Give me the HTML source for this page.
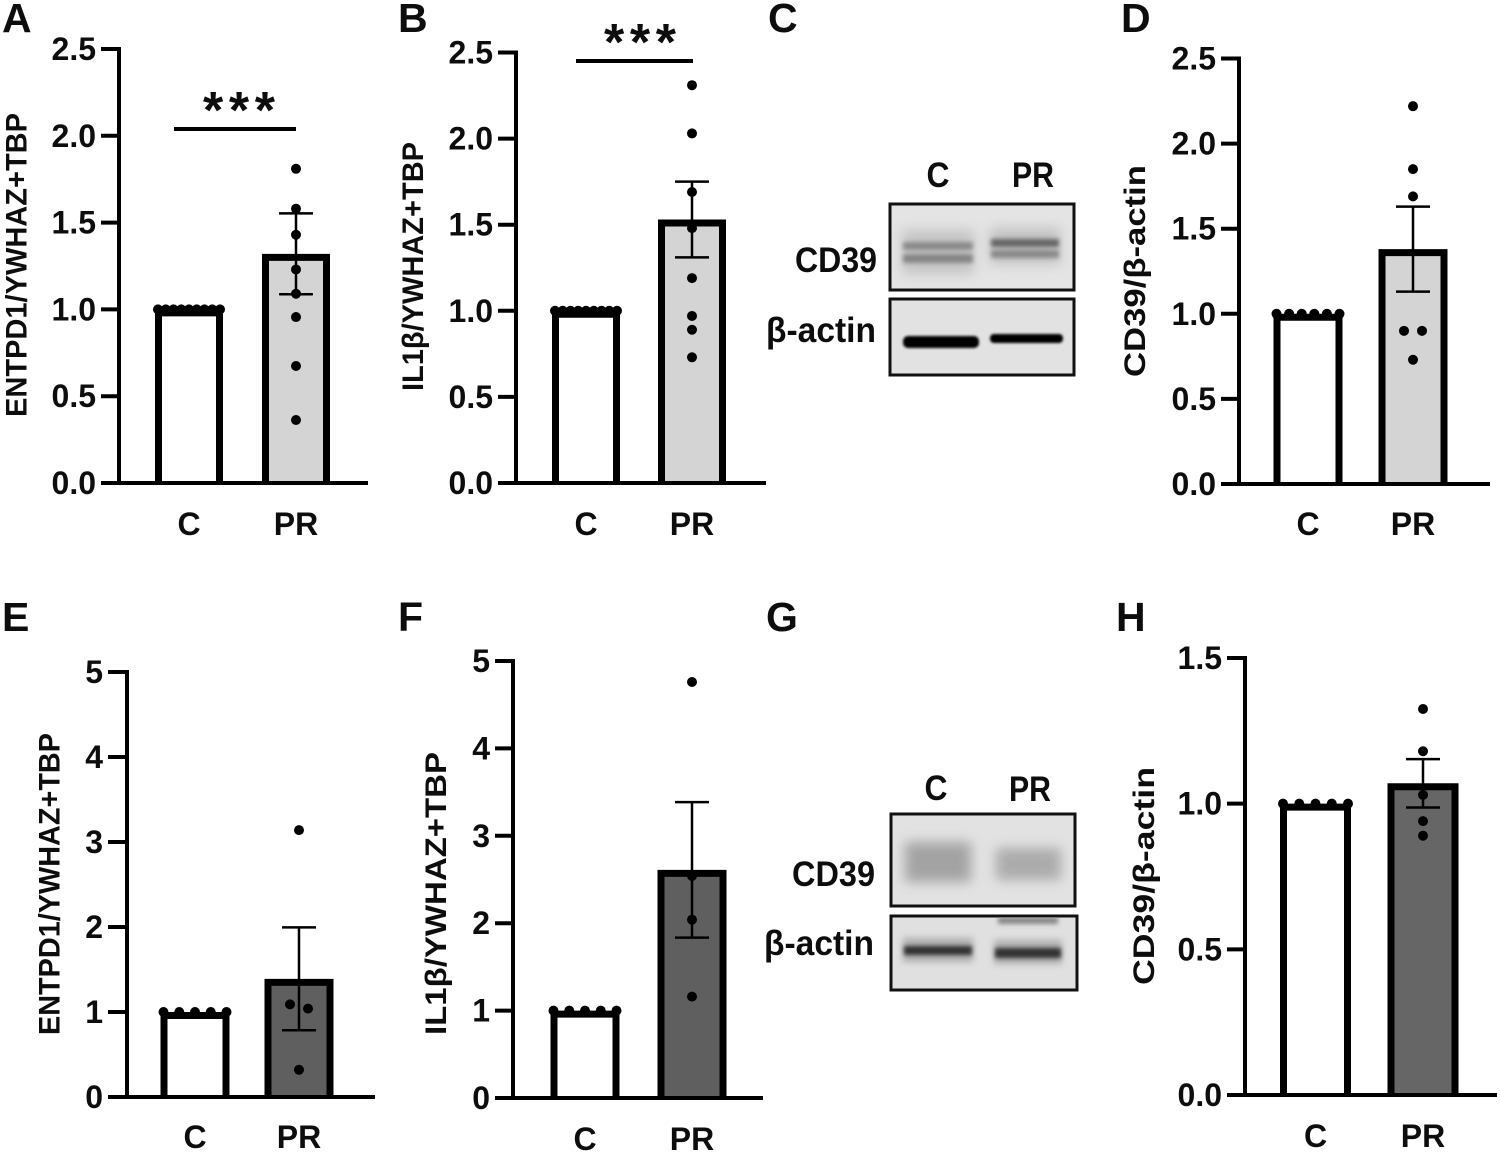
<!DOCTYPE html>
<html>
<head>
<meta charset="utf-8">
<title>CD39 and IL1β expression panels</title>
<style>
html,body{margin:0;padding:0;background:#fff;}
svg{display:block;filter:blur(.35px);}
text{font-family:"Liberation Sans",sans-serif;font-weight:bold;fill:#0d0d0d;}
</style>
</head>
<body>
<svg id="figure" width="1500" height="1154" viewBox="0 0 1500 1154" xmlns="http://www.w3.org/2000/svg">
<defs>
<filter id="b1" x="-20%" y="-80%" width="140%" height="260%"><feGaussianBlur stdDeviation="1.2"/></filter>
<filter id="b2" x="-20%" y="-80%" width="140%" height="260%"><feGaussianBlur stdDeviation="2.2"/></filter>
<filter id="b4" x="-20%" y="-80%" width="140%" height="260%"><feGaussianBlur stdDeviation="3.5"/></filter>
<filter id="b8" x="-30%" y="-60%" width="160%" height="220%"><feGaussianBlur stdDeviation="6"/></filter>
<clipPath id="clipC1"><rect x="892" y="205" width="181" height="84"/></clipPath>
<clipPath id="clipC2"><rect x="892" y="301" width="181" height="72"/></clipPath>
<clipPath id="clipG1"><rect x="893" y="816" width="181" height="88"/></clipPath>
<clipPath id="clipG2"><rect x="893" y="918" width="183" height="70"/></clipPath>
</defs>

<g>
<text x="768" y="32" font-size="41">C</text>
<text x="938" y="187" font-size="35" text-anchor="middle" textLength="23" lengthAdjust="spacingAndGlyphs">C</text>
<text x="1033" y="187" font-size="35" text-anchor="middle" textLength="42" lengthAdjust="spacingAndGlyphs">PR</text>
<text x="795" y="272" font-size="35" textLength="82" lengthAdjust="spacingAndGlyphs">CD39</text>
<text x="766" y="342" font-size="35" textLength="110" lengthAdjust="spacingAndGlyphs">β-actin</text>
<rect x="890" y="204" width="184" height="86" fill="#e4e4e4" stroke="#111" stroke-width="3"/>
<g clip-path="url(#clipC1)">
<rect x="902" y="230" width="72" height="44" fill="#aaa" filter="url(#b8)" opacity=".55"/>
<rect x="990" y="228" width="70" height="36" fill="#aaa" filter="url(#b8)" opacity=".6"/>
<rect x="903" y="242" width="70" height="8" fill="#777" filter="url(#b2)" opacity=".75"/>
<rect x="903" y="254" width="70" height="9" fill="#777" filter="url(#b2)" opacity=".8"/>
<rect x="991" y="239" width="68" height="8" fill="#555" filter="url(#b2)" opacity=".85"/>
<rect x="991" y="250" width="68" height="8" fill="#777" filter="url(#b2)" opacity=".75"/>
</g>
<rect x="890" y="299" width="184" height="76" fill="#e2e2e2" stroke="#111" stroke-width="3"/>
<g clip-path="url(#clipC2)">
<rect x="903" y="336" width="76" height="12" rx="5" fill="#000" filter="url(#b1)"/>
<rect x="990" y="334" width="73" height="9" rx="4" fill="#000" filter="url(#b1)"/>
</g>
</g>

<g>
<text x="766" y="631" font-size="41">G</text>
<text x="936" y="800" font-size="35" text-anchor="middle" textLength="23" lengthAdjust="spacingAndGlyphs">C</text>
<text x="1030" y="801" font-size="35" text-anchor="middle" textLength="42" lengthAdjust="spacingAndGlyphs">PR</text>
<text x="792" y="886" font-size="35" textLength="83" lengthAdjust="spacingAndGlyphs">CD39</text>
<text x="764" y="955" font-size="35" textLength="110" lengthAdjust="spacingAndGlyphs">β-actin</text>
<rect x="891" y="814" width="184" height="92" fill="#e2e2e2" stroke="#111" stroke-width="3"/>
<g clip-path="url(#clipG1)">
<rect x="905" y="842" width="66" height="40" fill="#999" filter="url(#b8)" opacity=".85"/>
<rect x="996" y="848" width="65" height="32" fill="#a2a2a2" filter="url(#b8)" opacity=".85"/>
</g>
<rect x="891" y="916" width="186" height="74" fill="#e0e0e0" stroke="#111" stroke-width="3"/>
<g clip-path="url(#clipG2)">
<rect x="903" y="938" width="70" height="24" fill="#999" filter="url(#b4)" opacity=".7"/>
<rect x="994" y="940" width="68" height="24" fill="#999" filter="url(#b4)" opacity=".7"/>
<rect x="904" y="946" width="68" height="9" fill="#333" filter="url(#b2)"/>
<rect x="995" y="948" width="66" height="10" fill="#333" filter="url(#b2)"/>
<rect x="998" y="917" width="60" height="7" fill="#888" filter="url(#b2)"/>
</g>
</g>
</svg>

<script>
// ---- Data ----
const categories = ['C', 'PR'];

const ticksA = ['0.0', '0.5', '1.0', '1.5', '2.0', '2.5'];
const meansA = [1, 1.32];
const semA = [0, 0.233];
const pointsAC = [1, 1, 1, 1, 1, 1, 1, 1, 1];
const pointsAPR = [1.81, 1.58, 1.43, 1.23, 1.09, 0.956, 0.674, 0.363];

const ticksB = ['0.0', '0.5', '1.0', '1.5', '2.0', '2.5'];
const meansB = [1, 1.53];
const semB = [0, 0.22];
const pointsBC = [1, 1, 1, 1, 1, 1, 1, 1, 1];
const pointsBPR = [2.31, 2.03, 1.69, 1.48, 1.19, 0.97, 0.89, 0.73];

const ticksD = ['0.0', '0.5', '1.0', '1.5', '2.0', '2.5'];
const meansD = [1, 1.38];
const semD = [0, 0.25];
const pointsDC = [1, 1, 1, 1, 1, 1];
const pointsDPR = [2.22, 1.85, 1.69, 0.90, 0.90, 0.73];

const ticksE = ['0', '1', '2', '3', '4', '5'];
const meansE = [1, 1.39];
const semE = [0, 0.605];
const pointsEC = [1, 1, 1, 1, 1];
const pointsEPR = [3.14, 1.09, 1.04, 0.32];

const ticksF = ['0', '1', '2', '3', '4', '5'];
const meansF = [1, 2.61];
const semF = [0, 0.775];
const pointsFC = [1, 1, 1, 1, 1];
const pointsFPR = [4.76, 2.54, 2.04, 1.16];

const ticksH = ['0.0', '0.5', '1.0', '1.5'];
const meansH = [1, 1.07];
const semH = [0, 0.083];
const pointsHC = [1, 1, 1, 1, 1];
const pointsHPR = [1.325, 1.18, 1.03, 0.94, 0.89];

// ---- Layout ----
const NS = 'http://www.w3.org/2000/svg';
const figure = document.getElementById('figure');

const panels = [
  { id: 'a', letter: 'A', lx: 2, ly: 32, axisX: 119, tickX: 101, endX: 368, y0: 483, yTop: 49, centers: [189, 296], barW: 68, fill: '#d4d4d4',
    ticks: ticksA, means: meansA, sem: semA, points: [pointsAC, pointsAPR], title: 'ENTPD1/YWHAZ+TBP', titleX: 26.5, titleY0: 417, titleLen: 304, catY: 535,
    sig: { x1: 174, x2: 296, y: 129, star: 239, starY: 128 } },
  { id: 'b', letter: 'B', lx: 398, ly: 32, axisX: 516, tickX: 498, endX: 766, y0: 483, yTop: 52.5, centers: [586, 692], barW: 68, fill: '#d4d4d4',
    ticks: ticksB, means: meansB, sem: semB, points: [pointsBC, pointsBPR], title: 'IL1β/YWHAZ+TBP', titleX: 423, titleY0: 391, titleLen: 249, catY: 535,
    sig: { x1: 576, x2: 693, y: 61, star: 640, starY: 60 } },
  { id: 'd', letter: 'D', lx: 1121, ly: 32, axisX: 1239, tickX: 1221, endX: 1490, y0: 484, yTop: 58.5, centers: [1308, 1413], barW: 69, fill: '#d4d4d4',
    ticks: ticksD, means: meansD, sem: semD, points: [pointsDC, pointsDPR], title: 'CD39/β-actin', titleX: 1145, titleY0: 377, titleLen: 212, catY: 535 },
  { id: 'e', letter: 'E', lx: 2, ly: 631, axisX: 127, tickX: 108, endX: 375, y0: 1097, yTop: 672, centers: [195, 299], barW: 69, fill: '#5f5f5f',
    ticks: ticksE, means: meansE, sem: semE, points: [pointsEC, pointsEPR], title: 'ENTPD1/YWHAZ+TBP', titleX: 59.5, titleY0: 1035, titleLen: 302, catY: 1148 },
  { id: 'f', letter: 'F', lx: 398, ly: 631, axisX: 513, tickX: 495, endX: 763, y0: 1098, yTop: 661, centers: [585, 692], barW: 69, fill: '#5f5f5f',
    ticks: ticksF, means: meansF, sem: semF, points: [pointsFC, pointsFPR], title: 'IL1β/YWHAZ+TBP', titleX: 446, titleY0: 1035, titleLen: 283, catY: 1150 },
  { id: 'h', letter: 'H', lx: 1116, ly: 631, axisX: 1245, tickX: 1227, endX: 1497, y0: 1095, yTop: 658, centers: [1315.5, 1423], barW: 71, fill: '#666666',
    ticks: ticksH, means: meansH, sem: semH, points: [pointsHC, pointsHPR], title: 'CD39/β-actin', titleX: 1154, titleY0: 985, titleLen: 218, catY: 1147 }
];

const AXIS_W = 4;
const BAR_STROKE = 7;
const DOT_R = 5;
const CAP_HALF = 17;

function svgEl(tag, parent) {
  const el = document.createElementNS(NS, tag);
  parent.appendChild(el);
  return el;
}
function setAll(el, attrs) {
  for (const k in attrs) el.setAttribute(k, attrs[k]);
}

// Spread overlapping dots sideways, the way a scatter-on-bar plot does.
function swarm(values, scale, cx, barW) {
  const sorted = values.slice().sort((a, b) => b - a);
  const out = [];
  let i = 0;
  while (i < sorted.length) {
    let j = i + 1;
    while (j < sorted.length && Math.abs(scale(sorted[j]) - scale(sorted[i])) < 8) j++;
    const n = j - i;
    const step = n > 3 ? (barW - 6) / (n - 1) : 18;
    for (let k = 0; k < n; k++) {
      out.push({ v: sorted[i + k], x: cx + (k - (n - 1) / 2) * step });
    }
    i = j;
  }
  return out;
}

panels.forEach(function (p) {
  const maxV = parseFloat(p.ticks[p.ticks.length - 1]);
  const yScale = function (v) { return p.y0 - (v / maxV) * (p.y0 - p.yTop); };

  const g = svgEl('g', figure);
  
  

  const letter = svgEl('text', g);
  
  
  setAll(letter, { x: p.lx, y: p.ly, 'font-size': 41 });
  letter.textContent = p.letter;

  // Bars: three-sided outline so the baseline is only the x axis
  p.means.forEach(function (m, i) {
    const bar = svgEl('path', g);
    
    
    const top = yScale(m) + BAR_STROKE / 2;
    const left = p.centers[i] - p.barW / 2 + BAR_STROKE / 2;
    const right = p.centers[i] + p.barW / 2 - BAR_STROKE / 2;
    setAll(bar, {
      d: 'M' + left + ' ' + p.y0 + ' V' + top + ' H' + right + ' V' + p.y0,
      fill: i === 0 ? '#fff' : p.fill,
      stroke: '#000',
      'stroke-width': BAR_STROKE
    });
  });

  // Axes
  const yAxis = svgEl('line', g);
  
  
  setAll(yAxis, { x1: p.axisX, x2: p.axisX, y1: p.yTop - 2, y2: p.y0 + 2, stroke: '#000', 'stroke-width': AXIS_W });

  const xAxis = svgEl('line', g);
  
  
  setAll(xAxis, { x1: p.tickX, x2: p.endX, y1: p.y0, y2: p.y0, stroke: '#000', 'stroke-width': AXIS_W });

  // Y ticks
  p.ticks.forEach(function (t) {
    const y = yScale(parseFloat(t));
    const tick = svgEl('line', g);
    
    
    setAll(tick, { x1: p.tickX, x2: p.axisX, y1: y, y2: y, stroke: '#000', 'stroke-width': AXIS_W });

    const label = svgEl('text', g);
    
    
    setAll(label, { x: p.tickX - 5, y: y + 11, 'font-size': 32, 'text-anchor': 'end' });
    label.textContent = t;
  });

  // Category labels
  categories.forEach(function (c, i) {
    const label = svgEl('text', g);
    
    
    setAll(label, { x: p.centers[i], y: p.catY, 'font-size': 32, 'text-anchor': 'middle' });
    label.textContent = c;
  });

  // Y-axis title
  const title = svgEl('text', g);
  
  
  setAll(title, {
    transform: 'translate(' + p.titleX + ',' + p.titleY0 + ') rotate(-90)',
    'font-size': 30,
    textLength: p.titleLen,
    lengthAdjust: 'spacingAndGlyphs'
  });
  title.textContent = p.title;

  // Error bars
  p.sem.forEach(function (s, i) {
    if (!s) return;
    const cx = p.centers[i];
    const hi = yScale(p.means[i] + s);
    const lo = yScale(p.means[i] - s);

    const stem = svgEl('line', g);
    
    
    setAll(stem, { x1: cx, x2: cx, y1: hi, y2: lo, stroke: '#000', 'stroke-width': 2.5 });

    const capHi = svgEl('line', g);
    
    
    setAll(capHi, { x1: cx - CAP_HALF, x2: cx + CAP_HALF, y1: hi, y2: hi, stroke: '#000', 'stroke-width': 2.5 });

    const capLo = svgEl('line', g);
    
    
    setAll(capLo, { x1: cx - CAP_HALF, x2: cx + CAP_HALF, y1: lo, y2: lo, stroke: '#000', 'stroke-width': 2.5 });
  });

  // Points
  p.points.forEach(function (vals, i) {
    swarm(vals, yScale, p.centers[i], p.barW).forEach(function (pt) {
      const dot = svgEl('circle', g);
      
      
      setAll(dot, { cx: pt.x, cy: yScale(pt.v), r: DOT_R, fill: '#000' });
    });
  });

  // Significance marker
  if (p.sig) {
    const sigLine = svgEl('line', g);
    
    
    setAll(sigLine, { x1: p.sig.x1, x2: p.sig.x2, y1: p.sig.y, y2: p.sig.y, stroke: '#000', 'stroke-width': 4 });

    const stars = svgEl('text', g);
    
    
    setAll(stars, { x: p.sig.star, y: p.sig.starY, 'font-size': 52, 'text-anchor': 'middle', textLength: 72, lengthAdjust: 'spacing' });
    stars.textContent = '***';
  }
});
</script>
</body>
</html>
